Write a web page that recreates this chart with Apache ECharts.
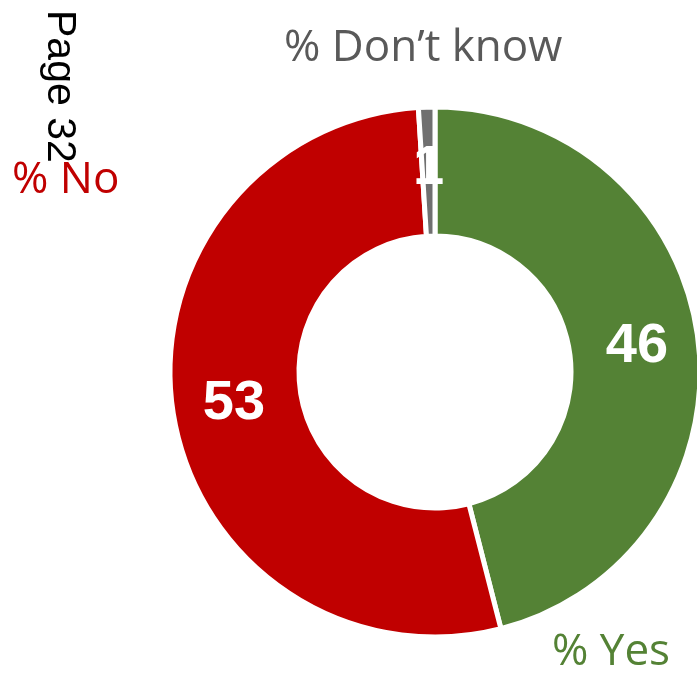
<!DOCTYPE html>
<html>
<head>
<meta charset="utf-8">
<script src="https://cdn.jsdelivr.net/npm/echarts@6/dist/echarts.min.js"></script>
<style>html,body{margin:0;padding:0;background:#fff;}#main{width:697px;height:675px;}</style>
</head>
<body>
<div id="main"></div>
<script>
// Data
var categories = ['% Yes', '% No', '% Don\u2019t know'];
var values = [46, 53, 1];
var sliceColors = ['#548235', '#C00000', '#707070'];
var labelColors = ['#548235', '#C00000', '#595959'];
var pageText = 'Page 32';

var chart = echarts.init(document.getElementById('main'), null, {renderer: 'canvas'});

var data = categories.map(function (c, i) {
  return { name: c, value: values[i], itemStyle: { color: sliceColors[i] } };
});

var labelFont = '"Open Sans", "Noto Sans", sans-serif';
var namePos = [
  { left: 552, y: 652 },   // Yes
  { left: 12, y: 180 },    // No
  { left: 284, y: 48 }     // Don't know
];

var graphics = categories.map(function (c, i) {
  return {
    type: 'text',
    x: namePos[i].left,
    y: namePos[i].y,
    style: {
      text: c,
      fill: labelColors[i],
      font: '44px ' + labelFont,
      textAlign: 'left',
      textVerticalAlign: 'middle'
    },
    z: 10
  };
});
graphics.push({
  type: 'text',
  x: 59,
  y: 10,
  rotation: -Math.PI / 2,
  style: {
    text: pageText,
    fill: '#000000',
    font: '41px "Liberation Sans", Arial, sans-serif',
    textAlign: 'left',
    textVerticalAlign: 'middle'
  },
  z: 11
});

chart.setOption({
  animation: false,
  backgroundColor: '#ffffff',
  series: [{
    type: 'pie',
    center: [435, 372],
    radius: [136, 265],
    startAngle: 90,
    clockwise: true,
    avoidLabelOverlap: false,
    itemStyle: { borderColor: '#ffffff', borderWidth: 5 },
    label: {
      show: true,
      position: 'inside',
      formatter: '{c}',
      color: '#ffffff',
      fontSize: 56,
      fontWeight: 'bold',
      fontFamily: '"Liberation Sans", Arial, sans-serif'
    },
    labelLine: { show: false },
    emphasis: { disabled: true },
    data: data
  }],
  graphic: graphics
});
</script>
</body>
</html>
